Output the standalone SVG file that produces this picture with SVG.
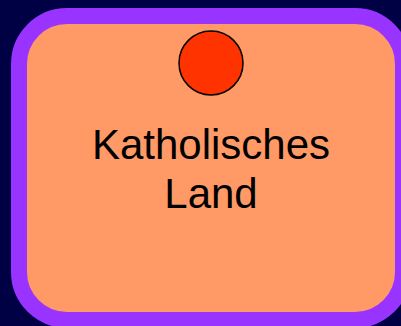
<svg xmlns="http://www.w3.org/2000/svg" width="401" height="326" viewBox="0 0 401 326">
<style>
.lbl{font-family:"Liberation Sans",Arial,sans-serif;font-size:42px;fill:#000;text-anchor:middle}
</style>
<rect x="0" y="0" width="401" height="326" fill="#000044"/>
<g id="node-land">
<rect x="19" y="16" width="384" height="304" rx="48" ry="48" fill="#ff9966" stroke="#9933ff" stroke-width="16"/>
<circle cx="211" cy="63" r="32" fill="#ff3300" stroke="#000" stroke-width="1.5"/>
<text class="lbl" x="211" y="159">Katholisches</text>
<text class="lbl" x="211" y="208">Land</text>
</g>
<g id="connectors"/>
</svg>
